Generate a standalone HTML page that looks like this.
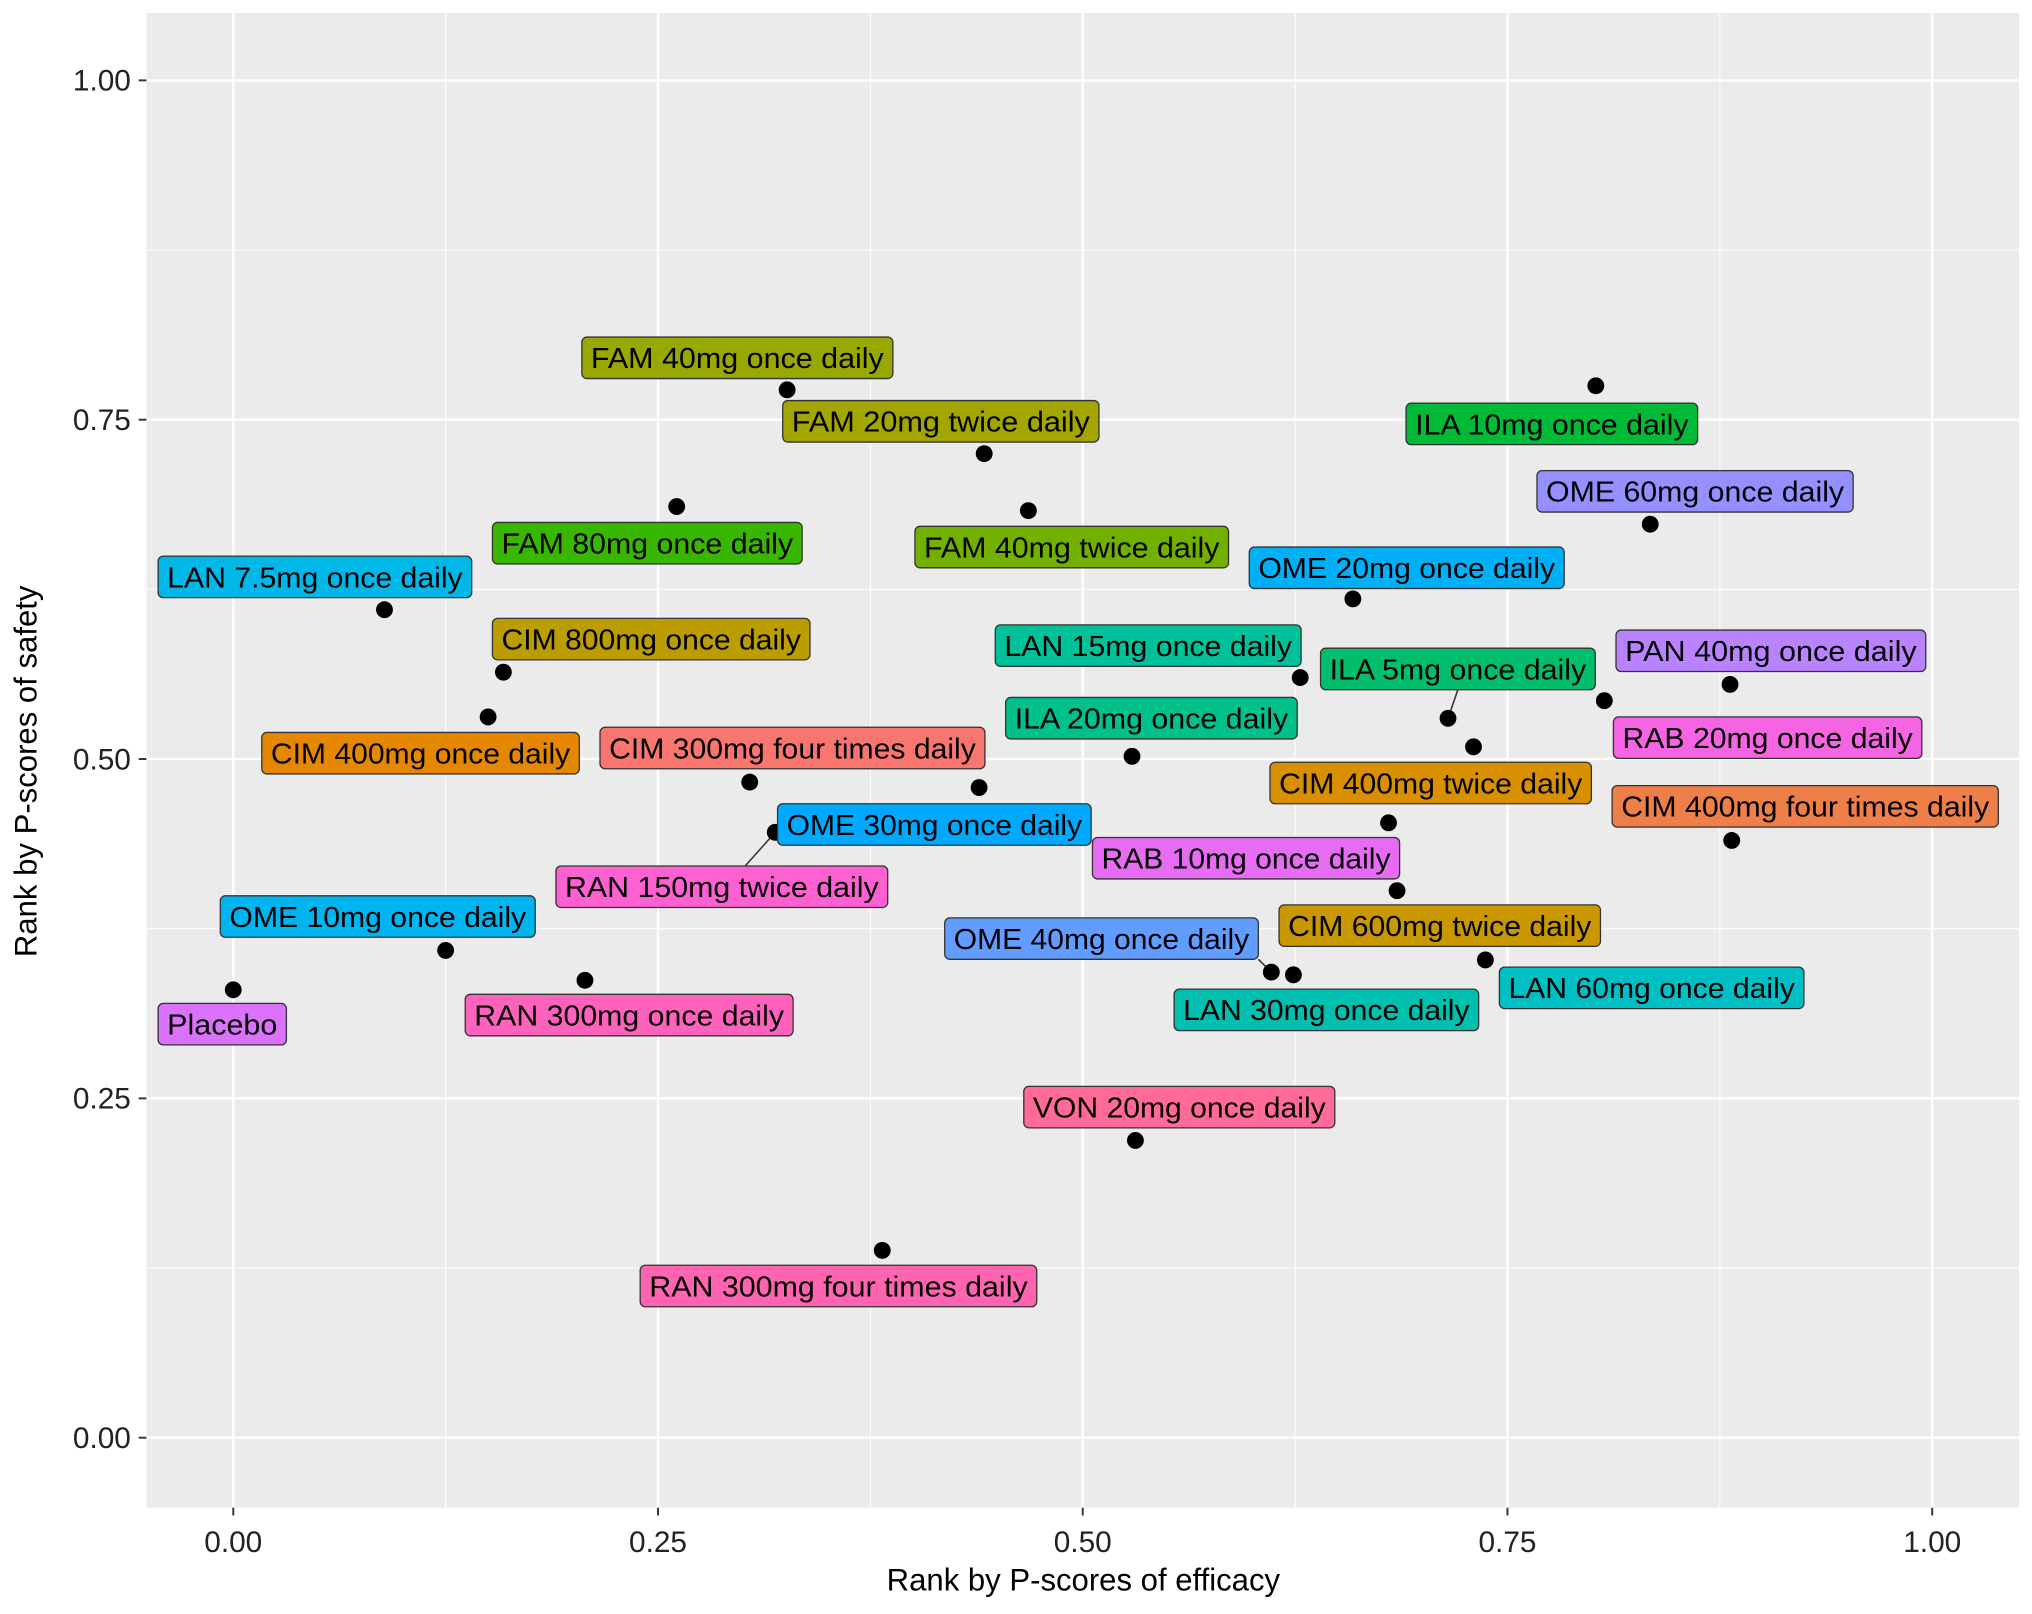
<!DOCTYPE html>
<html><head><meta charset="utf-8"><style>
html,body{margin:0;padding:0;background:#fff;}
svg{display:block;font-family:"Liberation Sans",sans-serif;}
</style></head><body>
<svg id="chart" width="2032" height="1614" viewBox="0 0 1568 1245" preserveAspectRatio="none" xmlns="http://www.w3.org/2000/svg">
<rect x="113" y="10" width="1445" height="1153" fill="#EBEBEB"/>
<g id="grid"></g><g id="axes"></g><g id="lines"></g><g id="points"></g><g id="labels"></g>
<text x="836" y="1227" font-size="24" text-anchor="middle" fill="#000">Rank by P-scores of efficacy</text>
<text transform="translate(28,595) rotate(-90)" font-size="24" text-anchor="middle" fill="#000">Rank by P-scores of safety</text>
</svg>
<script>
const names = ["Placebo","OME 10mg once daily","RAN 300mg once daily","LAN 7.5mg once daily","CIM 800mg once daily","CIM 400mg once daily","FAM 80mg once daily","FAM 40mg once daily","FAM 20mg twice daily","FAM 40mg twice daily","CIM 300mg four times daily","RAN 150mg twice daily","OME 30mg once daily","ILA 20mg once daily","LAN 15mg once daily","OME 20mg once daily","ILA 10mg once daily","OME 60mg once daily","ILA 5mg once daily","CIM 400mg twice daily","RAB 20mg once daily","PAN 40mg once daily","CIM 600mg twice daily","CIM 400mg four times daily","RAB 10mg once daily","OME 40mg once daily","LAN 30mg once daily","LAN 60mg once daily","VON 20mg once daily","RAN 300mg four times daily"];
const efficacy = [0.000,0.125,0.207,0.089,0.159,0.150,0.261,0.326,0.442,0.468,0.304,0.319,0.439,0.529,0.628,0.659,0.802,0.834,0.715,0.730,0.807,0.881,0.680,0.882,0.685,0.611,0.624,0.737,0.531,0.382];
const safety = [0.330,0.359,0.337,0.610,0.564,0.531,0.686,0.772,0.725,0.683,0.483,0.446,0.479,0.502,0.560,0.618,0.775,0.673,0.530,0.509,0.543,0.555,0.453,0.440,0.403,0.343,0.341,0.352,0.219,0.138];
const colors = ["#DB72FB","#00B4F0","#FF62BC","#00B8E7","#BB9D00","#E58700","#39B600","#99A800","#A3A500","#72B000","#F8766D","#FD61D1","#00A9FF","#00C08B","#00C19A","#00B0F6","#00BA38","#9590FF","#00BE6C","#D89000","#F564E3","#B983FF","#C99800","#EF7F49","#E76BF3","#619CFF","#00BFAF","#00BFC4","#FF6A98","#FF64B0"];
const ticks = [0,0.25,0.5,0.75,1];
const tickLabels = ["0.00","0.25","0.50","0.75","1.00"];
// label layout (pixels, not data): box left, box center y, box width
const boxLeft = [122,170,359,122,380,202,380,449,604,706,463,429,600,776,768,964,1085,1186,1019,980,1245,1247,987,1244,843,729,906,1157,790,494];
const boxCy = [790,707,783,445,493,581,419,276,325,422,577,684,636,554,498,438,327,379,516,604,569,502,714,622,662,724,779,762,854,992];
const boxW = [99,243,253,242,245,245,239,240,244,242,297,256,242,225,236,243,225,244,212,248,238,239,248,298,237,242,235,235,240,306];
const leaders = {18:[1125,532],25:[971,740],11:[575,668]};

const NS="http://www.w3.org/2000/svg";
const X=v=>180+v*1311, Y=v=>1109-v*1047;
function mk(tag,attrs,parent){const e=document.createElementNS(NS,tag);for(const k in attrs)e.setAttribute(k,attrs[k]);parent.appendChild(e);return e;}
const grid=document.getElementById('grid'),axes=document.getElementById('axes');
for(let i=0;i<4;i++){const m=(ticks[i]+ticks[i+1])/2;
 const a=mk('line',{x1:X(m),x2:X(m),y1:10,y2:1163,stroke:"#fff","stroke-width":0.8},grid);
 
 const b=mk('line',{x1:113,x2:1558,y1:Y(m),y2:Y(m),stroke:"#fff","stroke-width":0.8},grid);
 }
ticks.forEach((t,i)=>{
 const a=mk('line',{x1:X(t),x2:X(t),y1:10,y2:1163,stroke:"#fff","stroke-width":1.8},grid);
 
 const b=mk('line',{x1:113,x2:1558,y1:Y(t),y2:Y(t),stroke:"#fff","stroke-width":1.8},grid);
 
 mk('line',{x1:X(t),x2:X(t),y1:1163,y2:1169,stroke:"#333","stroke-width":1.5},axes);
 mk('line',{x1:107,x2:113,y1:Y(t),y2:Y(t),stroke:"#333","stroke-width":1.5},axes);
 const tx=mk('text',{x:X(t),y:1197,"font-size":23,"text-anchor":"middle",fill:"#222"},axes);tx.textContent=tickLabels[i];
 
 const ty=mk('text',{x:101,y:Y(t)+8,"font-size":23,"text-anchor":"end",fill:"#222"},axes);ty.textContent=tickLabels[i];
 
});
const lines=document.getElementById('lines'),pts=document.getElementById('points'),labs=document.getElementById('labels');
names.forEach((n,i)=>{
 const cx=X(efficacy[i]),cy=Y(safety[i]);
 if(leaders[i]){const l=mk('line',{x1:leaders[i][0],y1:leaders[i][1],x2:cx,y2:cy,stroke:"#333","stroke-width":1.2},lines);
  }
 const c=mk('circle',{cx:cx,cy:cy,r:6.5,fill:"#000"},pts);
 
 const g=mk('g',{},labs);
 
 mk('rect',{x:boxLeft[i],y:boxCy[i]-16,width:boxW[i],height:32,rx:4,fill:colors[i],stroke:"#333","stroke-width":1},g);
 const t=mk('text',{x:boxLeft[i]+boxW[i]/2,y:boxCy[i]+8,"font-size":22,"text-anchor":"middle",fill:"#000",textLength:boxW[i]-14,lengthAdjust:"spacingAndGlyphs"},g);
 t.textContent=n;
});
</script>
</body></html>
